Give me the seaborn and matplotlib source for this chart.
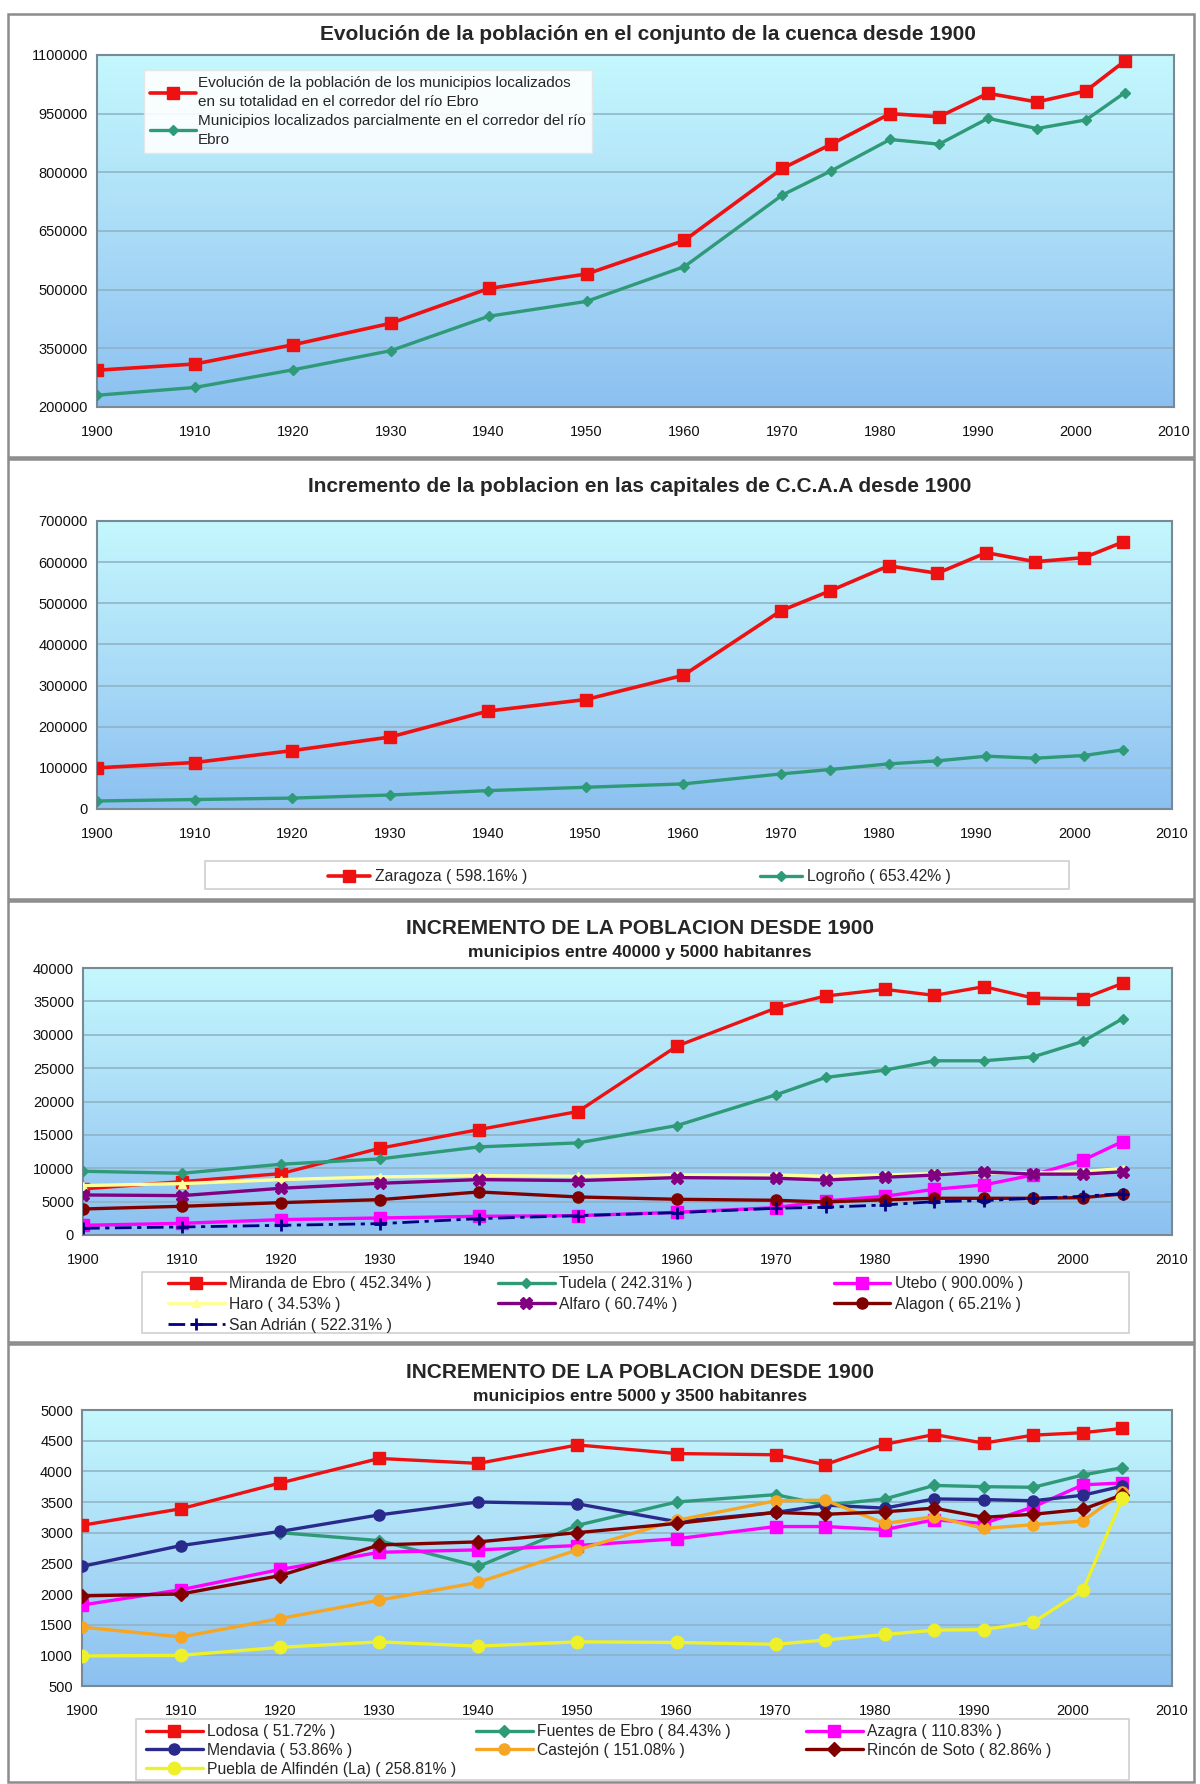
import numpy as np
import pandas as pd
import matplotlib
matplotlib.use("Agg")
import matplotlib.pyplot as plt
import seaborn as sns
from matplotlib.colors import LinearSegmentedColormap
from matplotlib.patches import Rectangle

# census years
years = [1900, 1910, 1920, 1930, 1940, 1950, 1960, 1970, 1975, 1981, 1986, 1991, 1996, 2001, 2005]

# chart 1 - whole basin
cuenca_total = [294000, 310000, 359000, 414000, 503000, 540000, 626000, 810000, 872000,
                950000, 942000, 1002000, 980000, 1008000, 1085000]
cuenca_parcial = [230000, 250000, 295000, 344000, 432000, 470000, 559000, 742000, 804000,
                  884000, 872000, 938000, 912000, 934000, 1004000]
labels_1 = ["Evolución de la población de los municipios localizados\nen su totalidad en el corredor del río Ebro",
            "Municipios localizados parcialmente en el corredor del río\nEbro"]

# chart 2 - regional capitals
zaragoza = [100000, 113000, 142000, 175000, 238000, 266000, 325000, 482000, 530000,
            591000, 573000, 623000, 601000, 611000, 649000]
logrono = [19500, 23000, 26500, 34000, 44700, 52800, 61000, 85300, 95900,
           109700, 117000, 128400, 123500, 130000, 143800]
labels_2 = ["Zaragoza ( 598.16% )", "Logroño ( 653.42% )"]

# chart 3 - 40000 to 5000 inhabitants
miranda = [6900, 8000, 9200, 13000, 15800, 18500, 28300, 34000, 35800, 36800, 35900, 37200, 35500, 35400, 37700]
tudela = [9550, 9250, 10600, 11400, 13200, 13800, 16400, 21000, 23600, 24700, 26100, 26100, 26700, 29000, 32400]
utebo = [1450, 1750, 2300, 2550, 2800, 2900, 3400, 4100, 5100, 5800, 6850, 7500, 9000, 11200, 14000]
haro = [7400, 7700, 8300, 8700, 8900, 8800, 9000, 9000, 8800, 9000, 9200, 9300, 9300, 9500, 9950]
alfaro = [6000, 5900, 7000, 7750, 8300, 8150, 8600, 8500, 8230, 8650, 8980, 9450, 9120, 9120, 9470]
alagon = [3900, 4300, 4850, 5300, 6450, 5700, 5350, 5200, 4950, 5280, 5500, 5500, 5500, 5600, 6150]
san_adrian = [1000, 1200, 1450, 1700, 2450, 2900, 3350, 4000, 4150, 4500, 5000, 5150, 5500, 5800, 6200]
labels_3 = ["Miranda de Ebro ( 452.34% )", "Tudela ( 242.31% )", "Utebo ( 900.00% )",
            "Haro ( 34.53% )", "Alfaro ( 60.74% )", "Alagon ( 65.21% )", "San Adrián ( 522.31% )"]

# chart 4 - 5000 to 3500 inhabitants
lodosa = [3120, 3390, 3810, 4210, 4130, 4430, 4290, 4270, 4110, 4440, 4600, 4460, 4590, 4630, 4700]
fuentes = [np.nan, np.nan, 3000, 2870, 2450, 3120, 3500, 3620, 3450, 3550, 3770, 3750, 3740, 3940, 4060]
azagra = [1820, 2070, 2400, 2680, 2720, 2790, 2900, 3100, 3100, 3050, 3210, 3150, 3420, 3780, 3810]
mendavia = [2450, 2790, 3020, 3290, 3500, 3470, 3180, 3330, 3450, 3400, 3550, 3540, 3520, 3610, 3760]
castejon = [1460, 1300, 1600, 1900, 2190, 2720, 3200, 3520, 3530, 3150, 3260, 3070, 3130, 3190, 3660]
rincon = [1970, 2000, 2300, 2800, 2850, 3000, 3150, 3330, 3300, 3340, 3400, 3250, 3300, 3380, 3620]
puebla = [990, 1000, 1130, 1220, 1150, 1220, 1210, 1180, 1250, 1340, 1410, 1420, 1540, 2060, 3560]
labels_4 = ["Lodosa ( 51.72% )", "Fuentes de Ebro ( 84.43% )", "Azagra ( 110.83% )",
            "Mendavia ( 53.86% )", "Castejón ( 151.08% )", "Rincón de Soto ( 82.86% )",
            "Puebla de Alfindén (La) ( 258.81% )"]

W, H = 1200, 1784
BG = LinearSegmentedColormap.from_list("bg", ["#8cc0f0", "#abdcf7", "#c4f8fd"])


def fx(px):
    return px / W


def fy(py):
    return 1 - py / H


def make_axes(fig, x0, y0, x1, y1, ylim, ystep):
    ax = fig.add_axes([fx(x0), fy(y1), (x1 - x0) / W, (y1 - y0) / H])
    grad = np.linspace(0, 1, 256).reshape(-1, 1)
    ax.imshow(grad, extent=[0, 1, 0, 1], transform=ax.transAxes, origin="lower",
              aspect="auto", cmap=BG, zorder=-2)
    ticks = np.arange(ylim[0], ylim[1] + 1, ystep)
    for t in ticks:
        ax.axhline(t, color="#8fb0c2", lw=1.1, zorder=-1)
    ax.set_xticks(range(1900, 2011, 10))
    ax.set_yticks(ticks)
    ax.set_yticklabels([str(int(t)) for t in ticks])
    ax.tick_params(labelsize=10.5, length=3, color="#808080", labelcolor="#111111")
    ax.tick_params(axis="x", pad=10)
    for s in ax.spines.values():
        s.set_color("#7a8a94")
        s.set_linewidth(1.5)
    return ax, ylim


def draw(ax, values, color, marker, ms, lw=2.4, ls="-", mew=1.0):
    df = pd.DataFrame({"year": years, "pop": values})
    sns.lineplot(data=df, x="year", y="pop", ax=ax, color=color, marker=marker,
                 markersize=ms, markeredgecolor=color, markeredgewidth=mew,
                 linewidth=lw, linestyle=ls, legend=False, zorder=3)
    return ax.lines[-1]


def finish(ax, ylim):
    ax.set_xlim(1900, 2010)
    ax.set_ylim(*ylim)
    ax.set_xlabel("")
    ax.set_ylabel("")


def column_legend(fig, columns, col_x, top_y, box, spacing=0.3, hlen=3.6):
    x0, y0, x1, y1 = box
    fig.add_artist(Rectangle((fx(x0), fy(y1)), (x1 - x0) / W, (y1 - y0) / H,
                             transform=fig.transFigure, facecolor="white",
                             edgecolor="#d0d0d0", lw=1.2, zorder=1))
    for cx, col in zip(col_x, columns):
        fig.legend([h for h, _ in col], [l for _, l in col], loc="upper left",
                   bbox_to_anchor=(fx(cx), fy(top_y)), frameon=False, fontsize=11.3,
                   handlelength=hlen, handletextpad=0.3, labelspacing=spacing,
                   borderpad=0, borderaxespad=0)


sns.set_style("white")
plt.rcParams["font.family"] = ["Liberation Sans", "DejaVu Sans"]

fig = plt.figure(figsize=(12, 17.84), dpi=100)

# panel frames
for top, bottom in [(14, 457), (459, 899), (901, 1342), (1344, 1782)]:
    fig.add_artist(Rectangle((fx(8), fy(bottom)), (1194 - 8) / W, (bottom - top) / H,
                             transform=fig.transFigure, fill=False,
                             edgecolor="#8c8c8c", lw=1.8, zorder=0))

# ---- chart 1
ax1, lim1 = make_axes(fig, 97, 55, 1174, 407, (200000, 1100000), 150000)
h1 = draw(ax1, cuenca_total, "#ee1111", "s", 9, lw=2.6)
h2 = draw(ax1, cuenca_parcial, "#2e9a78", "D", 5, lw=2.4)
finish(ax1, lim1)
leg1 = ax1.legend([h1, h2], labels_1, loc="upper left", bbox_to_anchor=(fx(144), fy(70)),
                  bbox_transform=fig.transFigure, fontsize=11, frameon=True, fancybox=False,
                  facecolor="white", framealpha=0.9, edgecolor="#e6e6e6", handlelength=3.0,
                  handletextpad=0.15, labelspacing=0.3, borderpad=0.4, borderaxespad=0)
for t in leg1.get_texts():
    t.set_linespacing(1.45)
fig.text(fx(648), fy(34), "Evolución de la población en el conjunto de la cuenca desde 1900",
         ha="center", va="center", fontsize=15, fontweight="bold")

# ---- chart 2
ax2, lim2 = make_axes(fig, 97, 521, 1172, 809, (0, 700000), 100000)
z = draw(ax2, zaragoza, "#ee1111", "s", 9, lw=2.6)
lg = draw(ax2, logrono, "#2e9a78", "D", 5, lw=2.4)
finish(ax2, lim2)
fig.text(fx(640), fy(487), "Incremento de la poblacion en las capitales de C.C.A.A desde 1900",
         ha="center", va="center", fontsize=15, fontweight="bold")
column_legend(fig, [[(z, labels_2[0])], [(lg, labels_2[1])]], [328, 760], 869,
              (205, 861, 1069, 889), hlen=2.7)

# ---- chart 3
ax3, lim3 = make_axes(fig, 83, 968, 1172, 1235, (0, 40000), 5000)
l_mir = draw(ax3, miranda, "#ee1111", "s", 9)
l_tud = draw(ax3, tudela, "#2e9a78", "D", 5)
l_ute = draw(ax3, utebo, "#ff00ff", "s", 8)
l_har = draw(ax3, haro, "#ffff99", "^", 6)
l_alf = draw(ax3, alfaro, "#800080", "X", 8)
l_ala = draw(ax3, alagon, "#800000", "o", 8)
l_san = draw(ax3, san_adrian, "#000080", "+", 9, lw=2.0, ls=(0, (6, 2, 1.5, 2)), mew=2)
finish(ax3, lim3)
fig.text(fx(640), fy(929), "INCREMENTO DE LA POBLACION DESDE 1900",
         ha="center", va="center", fontsize=15, fontweight="bold")
fig.text(fx(640), fy(953), "municipios entre 40000 y 5000 habitanres",
         ha="center", va="center", fontsize=12.5, fontweight="bold", color="#222222")
column_legend(fig,
              [[(l_mir, labels_3[0]), (l_har, labels_3[3]), (l_san, labels_3[6])],
               [(l_tud, labels_3[1]), (l_alf, labels_3[4])],
               [(l_ute, labels_3[2]), (l_ala, labels_3[5])]],
              [168, 498, 834], 1276, (142, 1272, 1129, 1333), spacing=0.38)

# ---- chart 4
ax4, lim4 = make_axes(fig, 82, 1410, 1172, 1686, (500, 5000), 500)
l_lod = draw(ax4, lodosa, "#ee1111", "s", 9)
l_fue = draw(ax4, fuentes, "#2e9a78", "D", 6)
l_aza = draw(ax4, azagra, "#ff00ff", "s", 8)
l_men = draw(ax4, mendavia, "#2a2a8c", "o", 8)
l_cas = draw(ax4, castejon, "#f5a623", "o", 8)
l_rin = draw(ax4, rincon, "#800000", "D", 7)
l_pue = draw(ax4, puebla, "#eef02a", "o", 9)
finish(ax4, lim4)
fig.text(fx(640), fy(1372), "INCREMENTO DE LA POBLACION DESDE 1900",
         ha="center", va="center", fontsize=15, fontweight="bold")
fig.text(fx(640), fy(1396), "municipios entre 5000 y 3500 habitanres",
         ha="center", va="center", fontsize=12.5, fontweight="bold", color="#222222")
column_legend(fig,
              [[(l_lod, labels_4[0]), (l_men, labels_4[3]), (l_pue, labels_4[6])],
               [(l_fue, labels_4[1]), (l_cas, labels_4[4])],
               [(l_aza, labels_4[2]), (l_rin, labels_4[5])]],
              [146, 476, 806], 1724, (136, 1719, 1129, 1780), spacing=0.25)

fig.savefig("out.png", dpi=100)
plt.close(fig)
